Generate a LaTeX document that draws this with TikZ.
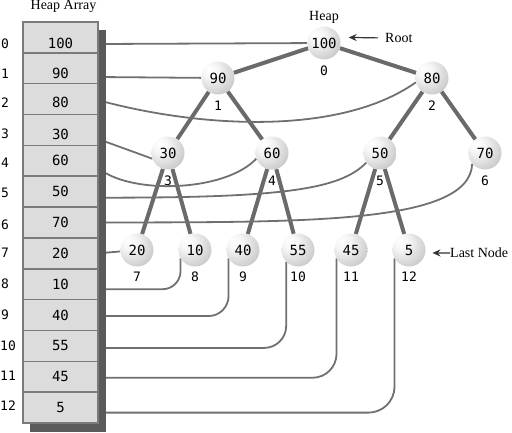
\documentclass[tikz,border=0pt]{standalone}
\usepackage{fontspec}
\setmainfont{Liberation Serif}
\newfontfamily\monof{DejaVu Sans Mono}
\usetikzlibrary{arrows.meta}
\definecolor{edgegray}{HTML}{6A6A6A}
\definecolor{linegray}{HTML}{707070}
\definecolor{cellfill}{HTML}{DCDCDC}
\definecolor{cellline}{HTML}{7A7A7A}
\definecolor{shadowgray}{HTML}{5A5A5A}
\definecolor{arrowgray}{HTML}{333333}
\pgfdeclareradialshading{heapball}{\pgfpoint{-14bp}{14bp}}{color(0bp)=(white); color(12bp)=(white!96!black); color(30bp)=(white!83!black); color(50bp)=(white!66!black); color(75bp)=(white!60!black)}
\pgfdeclarelayer{bg}
\pgfsetlayers{bg,main}
\begin{document}
\begin{tikzpicture}[x=1pt,y=-1pt,
  hnode/.style={circle, minimum size=33pt, inner sep=0pt, shading=heapball,
    font=\monof\fontsize{14}{14}\selectfont},
  hlbl/.style={font=\monof\fontsize{13}{13}\selectfont, inner sep=0pt, yshift=-6pt},
  cell/.style={rectangle, draw=cellline, fill=cellfill, line width=1.5pt,
    minimum width=75pt, minimum height=30.85pt, inner sep=0pt, outer sep=0pt,
    font=\monof\fontsize{14}{14}\selectfont},
  idx/.style={anchor=west, inner sep=0pt, font=\monof\fontsize{13}{13}\selectfont},
  serif/.style={inner sep=0pt, font=\fontsize{14}{16}\selectfont},
  tedge/.style={draw=edgegray, line width=4pt},
  conn/.style={draw=linegray, line width=1.8pt},
  arr/.style={draw=arrowgray, line width=1.2pt, -{Stealth[length=8pt,width=7pt]}}]
\useasboundingbox (0,0) rectangle (512,432);

% titles
\node[serif] (title) at (63.5,6.5) {Heap Array};
\node[serif] (heaplbl) at (324,17) {Heap};
\node[serif, anchor=west] (root) at (385,38) {Root};
\node[serif, anchor=west] (last) at (450,253) {Last Node};

% shadow of the array
\fill[shadowgray] (98,30) rectangle (106,432);
\fill[shadowgray] (30,423) rectangle (106,432);

% array cells
\node[cell, text height=22.7pt] (c0) at (60.5,37.4) {100};
\node[cell, text height=21pt] (c1) at (60.5,68.25) {90};
\node[cell, text height=17.5pt] (c2) at (60.5,99.1) {80};
\node[cell, text height=19.5pt] (c3) at (60.5,129.95) {30};
\node[cell] (c4) at (60.5,160.8) {60};
\node[cell] (c5) at (60.5,191.65) {50};
\node[cell] (c6) at (60.5,222.5) {70};
\node[cell] (c7) at (60.5,253.35) {20};
\node[cell] (c8) at (60.5,284.2) {10};
\node[cell] (c9) at (60.5,315.05) {40};
\node[cell] (c10) at (60.5,345.9) {55};
\node[cell] (c11) at (60.5,376.75) {45};
\node[cell] (c12) at (60.5,407.6) {5};

% array indices
\node[idx] (i0) at (1,44) {0};
\node[idx] (i1) at (1,74) {1};
\node[idx] (i2) at (1,103) {2};
\node[idx] (i3) at (1,134) {3};
\node[idx] (i4) at (1,163) {4};
\node[idx] (i5) at (1,193) {5};
\node[idx] (i6) at (1,225) {6};
\node[idx] (i7) at (1,253) {7};
\node[idx] (i8) at (1,284) {8};
\node[idx] (i9) at (1,315) {9};
\node[idx] (i10) at (0,346) {10};
\node[idx] (i11) at (0,376) {11};
\node[idx] (i12) at (0,406) {12};

% heap nodes
\node[hnode, label={[hlbl]below:0}] (n0) at (324,43) {100};
\node[hnode, label={[hlbl]below:1}] (n1) at (218,78) {90};
\node[hnode, label={[hlbl]below:2}] (n2) at (432,78) {80};
\node[hnode, label={[hlbl]below:3}] (n3) at (168,153) {30};
\node[hnode, label={[hlbl]below:4}] (n4) at (272,153) {60};
\node[hnode, label={[hlbl]below:5}] (n5) at (380,153) {50};
\node[hnode, label={[hlbl]below:6}] (n6) at (485,153) {70};
\node[hnode, label={[hlbl,yshift=1pt]below:7}] (n7) at (137,250) {20};
\node[hnode, label={[hlbl,yshift=1pt]below:8}] (n8) at (195,250) {10};
\node[hnode, label={[hlbl,yshift=1pt]below:9}] (n9) at (243,250) {40};
\node[hnode, label={[hlbl,yshift=1pt]below:10}] (n10) at (298,250) {55};
\node[hnode, label={[hlbl,yshift=1pt]below:11}] (n11) at (351,250) {45};
\node[hnode, label={[hlbl,yshift=1pt]below:12}] (n12) at (409,250) {5};

\begin{pgfonlayer}{bg}
% tree edges
\draw[tedge] (n0) -- (n1);
\draw[tedge] (n0) -- (n2);
\draw[tedge] (n1) -- (n3);
\draw[tedge] (n1) -- (n4);
\draw[tedge] (n2) -- (n5);
\draw[tedge] (n2) -- (n6);
\draw[tedge] (n3) -- (n7);
\draw[tedge] (n3) -- (n8);
\draw[tedge] (n4) -- (n9);
\draw[tedge] (n4) -- (n10);
\draw[tedge] (n5) -- (n11);
\draw[tedge] (n5) -- (n12);
% array-to-node connectors
\draw[conn] ([yshift=-6.6pt]c0.east) -- (n0);
\draw[conn] ([yshift=-8.75pt]c1.east) -- (n1);
\draw[conn] ([yshift=-1pt]c2.east) .. controls (200,128) and (340,136) .. (n2.195);
\draw[conn] ([yshift=-9pt]c3.east) -- (n3.200);
\draw[conn] ([yshift=-7pt]c4.east) .. controls (130,195) and (225,192) .. (n4.200);
\draw[conn] ([yshift=-6pt]c5.east) .. controls (280,198) and (340,190) .. (n5.215);
\draw[conn] (c6.east) .. controls (300,222) and (470,225) .. (n6.220);
\draw[conn] (c7.east) -- (n7);
\draw[conn, rounded corners=18pt] ([yshift=-5pt]c8.east) -| (n8.210);
\draw[conn, rounded corners=20pt] ([yshift=-1pt]c9.east) -| (n9.210);
\draw[conn, rounded corners=22pt] ([yshift=-2pt]c10.east) -| (n10.225);
\draw[conn, rounded corners=24pt] ([yshift=-1pt]c11.east) -| (n11.210);
\draw[conn, rounded corners=26pt] ([yshift=-5pt]c12.east) -| (n12.210);
\end{pgfonlayer}

% pointer arrows
\draw[arr, shorten <=7pt, shorten >=9pt] (root.west) -- (n0.20);
\draw[arr, shorten >=7pt] (last.west) -- (n12.-10);
\end{tikzpicture}
\end{document}
